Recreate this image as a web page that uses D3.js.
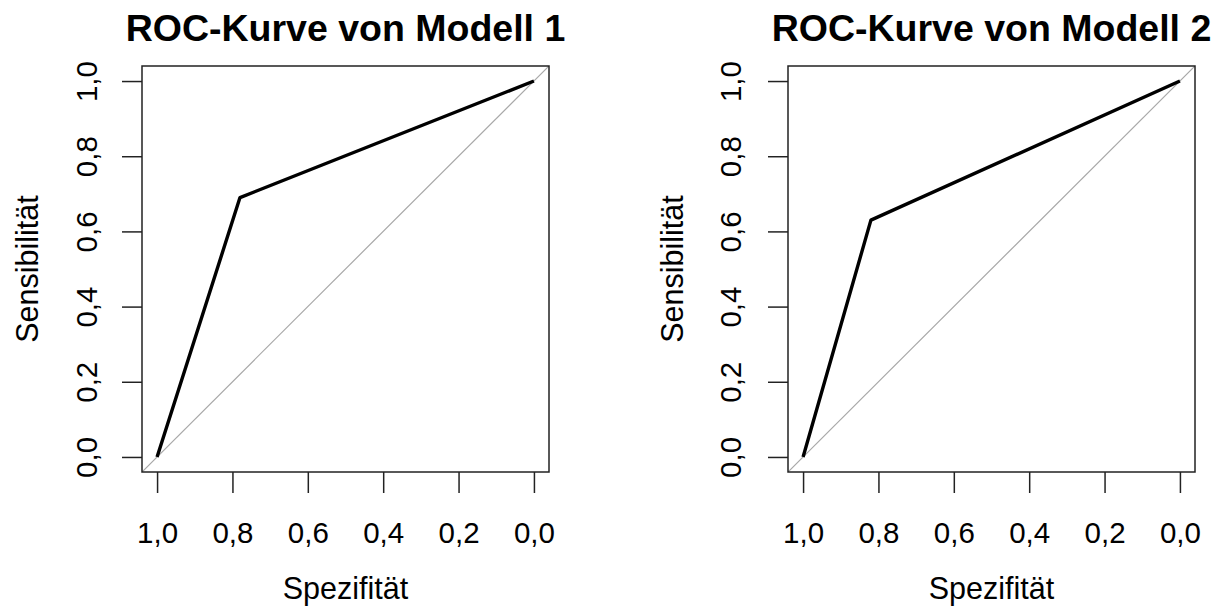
<!DOCTYPE html>
<html>
<head>
<meta charset="utf-8">
<script src="https://cdn.jsdelivr.net/npm/d3@7"></script>
<style>
  html, body { margin: 0; padding: 0; background: #fff; }
  text { font-family: "Liberation Sans", Arial, sans-serif; fill: #000; }
</style>
</head>
<body>
<div id="chart"></div>
<script>
// ROC data (specificity on x, sensitivity on y)
const titles = ["ROC-Kurve von Modell 1", "ROC-Kurve von Modell 2"];
const specModel1 = [1, 0.78, 0];
const sensModel1 = [0, 0.69, 1];
const specModel2 = [1, 0.82, 0];
const sensModel2 = [0, 0.63, 1];
const tickValues = [0, 0.2, 0.4, 0.6, 0.8, 1.0];
const xLabel = "Spezifität";
const yLabel = "Sensibilität";

const width = 1224, height = 608;
const svg = d3.select("#chart")
  .append("svg")
  .attr("width", width)
  .attr("height", height);

const fmt = d => d3.format(".1f")(d).replace(".", ",");

// plot boxes, left / right panel
const panels = [
  { left: 142, right: 549, spec: specModel1, sens: sensModel1, title: titles[0] },
  { left: 788, right: 1195, spec: specModel2, sens: sensModel2, title: titles[1] }
];
const boxTop = 66, boxBottom = 472;

panels.forEach((p, i) => {
  const x = d3.scaleLinear().domain([1.04, -0.04]).range([p.left, p.right]);
  const y = d3.scaleLinear().domain([-0.04, 1.04]).range([boxBottom, boxTop]);
  const g = svg.append("g");

  // clip for the diagonal reference line
  svg.append("clipPath").attr("id", "clip" + i)
    .append("rect")
    .attr("x", p.left).attr("y", boxTop)
    .attr("width", p.right - p.left).attr("height", boxBottom - boxTop);

  // diagonal (abline 1, -1)
  g.append("line")
    .attr("clip-path", `url(#clip${i})`)
    .attr("x1", x(1.04)).attr("y1", y(-0.04))
    .attr("x2", x(-0.04)).attr("y2", y(1.04))
    .attr("stroke", "#a8a8a8")
    .attr("stroke-width", 1.2);

  // ROC curve
  const pts = p.spec.map((s, k) => [s, p.sens[k]]);
  g.append("path")
    .datum(pts)
    .attr("fill", "none")
    .attr("stroke", "#000")
    .attr("stroke-width", 3.4)
    .attr("stroke-linejoin", "round")
    .attr("d", d3.line().x(d => x(d[0])).y(d => y(d[1])));

  // box
  g.append("rect")
    .attr("x", p.left).attr("y", boxTop)
    .attr("width", p.right - p.left).attr("height", boxBottom - boxTop)
    .attr("fill", "none")
    .attr("stroke", "#222")
    .attr("stroke-width", 1.5);

  // x axis
  const xAxis = g.append("g")
    .attr("transform", `translate(0,${boxBottom})`)
    .call(d3.axisBottom(x).tickValues(tickValues).tickSize(21).tickFormat(fmt));
  xAxis.select(".domain").remove();
  xAxis.selectAll(".tick line").attr("stroke", "#222").attr("stroke-width", 1.5);
  xAxis.selectAll(".tick text")
    .attr("y", 0).attr("dy", null)
    .attr("transform", "translate(0,71)")
    .style("font-size", "29.5px");

  // y axis
  const yAxis = g.append("g")
    .attr("transform", `translate(${p.left},0)`)
    .call(d3.axisLeft(y).tickValues(tickValues).tickSize(20).tickFormat(fmt));
  yAxis.select(".domain").remove();
  yAxis.selectAll(".tick line").attr("stroke", "#222").attr("stroke-width", 1.5);
  yAxis.selectAll(".tick text")
    .attr("x", 0).attr("dy", null)
    .attr("text-anchor", "middle")
    .attr("transform", `translate(${-(i === 0 ? 45 : 47)},0) rotate(-90)`)
    .style("font-size", "29.5px");

  // axis labels
  g.append("text")
    .attr("x", (p.left + p.right) / 2)
    .attr("y", 599)
    .attr("text-anchor", "middle")
    .style("font-size", "30.5px")
    .text(xLabel);

  g.append("text")
    .attr("transform", `translate(${p.left - (i === 0 ? 104 : 105)},${(boxTop + boxBottom) / 2}) rotate(-90)`)
    .attr("text-anchor", "middle")
    .style("font-size", "30.5px")
    .text(yLabel);

  // title
  g.append("text")
    .attr("x", (p.left + p.right) / 2)
    .attr("y", 41)
    .attr("text-anchor", "middle")
    .style("font-size", "37.5px")
    .style("font-weight", "bold")
    .text(p.title);
});
</script>
</body>
</html>
